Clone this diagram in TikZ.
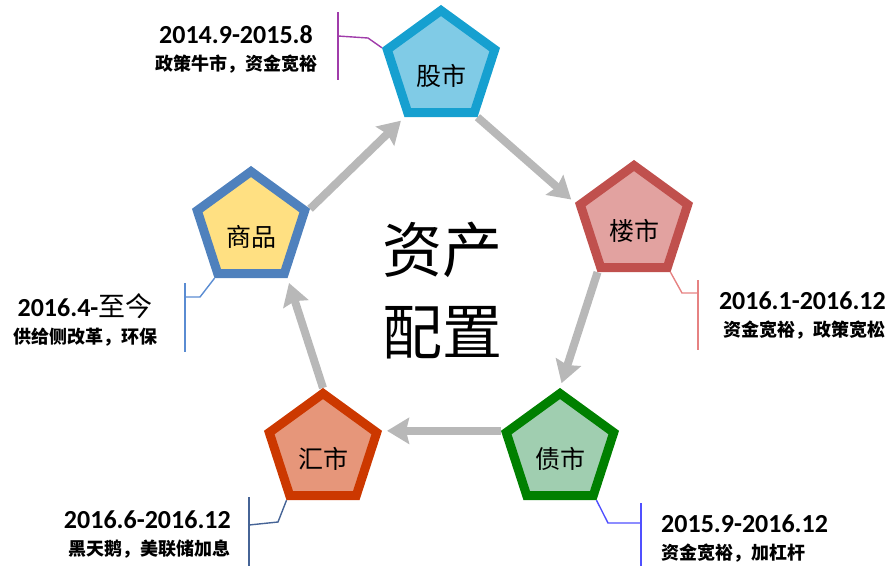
\documentclass[tikz,border=0pt]{standalone}
\usepackage{fontspec}
\setmainfont{Carlito}
\newfontfamily\cjk{Noto Sans CJK SC}
\newcommand\notefont{\cjk\bfseries\fontsize{18}{26}\selectfont}
\usetikzlibrary{shapes.geometric,arrows.meta,backgrounds}

\definecolor{gublue}{RGB}{22,160,208}
\definecolor{gufill}{RGB}{128,203,230}
\definecolor{loured}{RGB}{192,80,77}
\definecolor{loufill}{RGB}{226,162,160}
\definecolor{zhaigreen}{RGB}{0,128,0}
\definecolor{zhaifill}{RGB}{160,206,176}
\definecolor{huired}{RGB}{204,56,0}
\definecolor{huifill}{RGB}{230,150,122}
\definecolor{shangblue}{RGB}{79,129,189}
\definecolor{shangfill}{RGB}{255,224,130}
\definecolor{flowgray}{RGB}{184,184,184}
\definecolor{gutick}{RGB}{160,60,170}
\definecolor{loutick}{RGB}{230,130,130}
\definecolor{shangtick}{RGB}{90,140,210}
\definecolor{huitick}{RGB}{70,100,150}
\definecolor{zhaitick}{RGB}{80,80,255}

\begin{document}
\begin{tikzpicture}[x=1pt,y=-1pt,
		pent/.style={regular polygon, regular polygon sides=5, minimum size=113pt, inner sep=0pt, line width=9pt},
		pentlbl/.style={font=\cjk\fontsize{25}{25}\selectfont, yshift=-9pt},
		flow/.style={flowgray, line width=8pt, -{Stealth[length=22pt,width=26pt,inset=3pt]}, shorten >=5pt},
		tick/.style={line width=1.4pt},
		period/.style={font=\fontsize{26}{27}\selectfont\bfseries, inner sep=0pt}
	]
	
	\useasboundingbox (0,0) rectangle (892,566);
	
	\node[pent, draw=gublue, fill=gufill, label={[pentlbl]center:股市}] (gu) at (441,67) {};
	\node[pent, draw=loured, fill=loufill, label={[pentlbl]center:楼市}] (lou) at (634,222) {};
	\node[pent, draw=zhaigreen, fill=zhaifill, label={[pentlbl]center:债市}] (zhai) at (560,450) {};
	\node[pent, draw=huired, fill=huifill, label={[pentlbl]center:汇市}] (hui) at (323,450) {};
	\node[pent, draw=shangblue, fill=shangfill, label={[pentlbl]center:商品}] (shang) at (251,228) {};
	
	\node[font=\cjk\fontsize{60}{82}\selectfont, align=center] (title) at (442,291) {资产\\配置};
	
	\node[period, align=center] (gutxt) at (236,49) {2014.9-2015.8\\{\notefont 政策牛市，资金宽裕}};
	\node[period, align=right, anchor=east] (loutxt) at (886,316) {2016.1-2016.12\\{\notefont 资金宽裕，政策宽松}};
	\node[period, align=center] (shangtxt) at (85,320) {2016.4-{\cjk\mdseries\fontsize{27}{27}\selectfont 至今}\\{\notefont 供给侧改革，环保}};
	\node[period, align=right, anchor=east] (huitxt) at (231,535) {2016.6-2016.12\\{\notefont 黑天鹅，美联储加息}};
	\node[period, align=left, anchor=west] (zhaitxt) at (661,539) {2015.9-2016.12\\{\notefont 资金宽裕，加杠杆}};
	
	\coordinate (gutop) at (338,12);
	\coordinate (gubot) at (338,80);
	\coordinate (gujoin) at (338,36);
	\coordinate (gubend) at (368,38);
	\coordinate (loutop) at (698,280);
	\coordinate (loubot) at (698,350);
	\coordinate (loujoin) at (698,293);
	\coordinate (loubend) at (682,293);
	\coordinate (shangtop) at (185,283);
	\coordinate (shangbot) at (185,352);
	\coordinate (shangjoin) at (185,297);
	\coordinate (shangbend) at (200,297);
	\coordinate (huitop) at (249,497);
	\coordinate (huibot) at (249,566);
	\coordinate (huijoin) at (249,525);
	\coordinate (huibend) at (278,522);
	\coordinate (zhaitop) at (641,503);
	\coordinate (zhaibot) at (641,566);
	\coordinate (zhaijoin) at (641,523);
	\coordinate (zhaibend) at (608,523);
	
	\begin{scope}[on background layer]
		\draw[flow] (gu.corner 4) -- (lou.corner 2);
		\draw[flow] (lou.corner 3) -- (zhai.corner 1);
		\draw[flow] (zhai.corner 2) -- (hui.corner 5);
		\draw[flow] (hui.corner 1) -- (shang.corner 4);
		\draw[flow] (shang.corner 5) -- (gu.corner 3);
		
		\draw[tick, gutick] (gutop) -- (gubot);
		\draw[tick, gutick] (gu.corner 2) -- (gubend) -- (gujoin);
		\draw[tick, loutick] (loutop) -- (loubot);
		\draw[tick, loutick] (lou.corner 4) -- (loubend) -- (loujoin);
		\draw[tick, shangtick] (shangtop) -- (shangbot);
		\draw[tick, shangtick] (shang.corner 3) -- (shangbend) -- (shangjoin);
		\draw[tick, huitick] (huitop) -- (huibot);
		\draw[tick, huitick] (hui.corner 3) -- (huibend) -- (huijoin);
		\draw[tick, zhaitick] (zhaitop) -- (zhaibot);
		\draw[tick, zhaitick] (zhai.corner 4) -- (zhaibend) -- (zhaijoin);
	\end{scope}
	
\end{tikzpicture}
\end{document}
